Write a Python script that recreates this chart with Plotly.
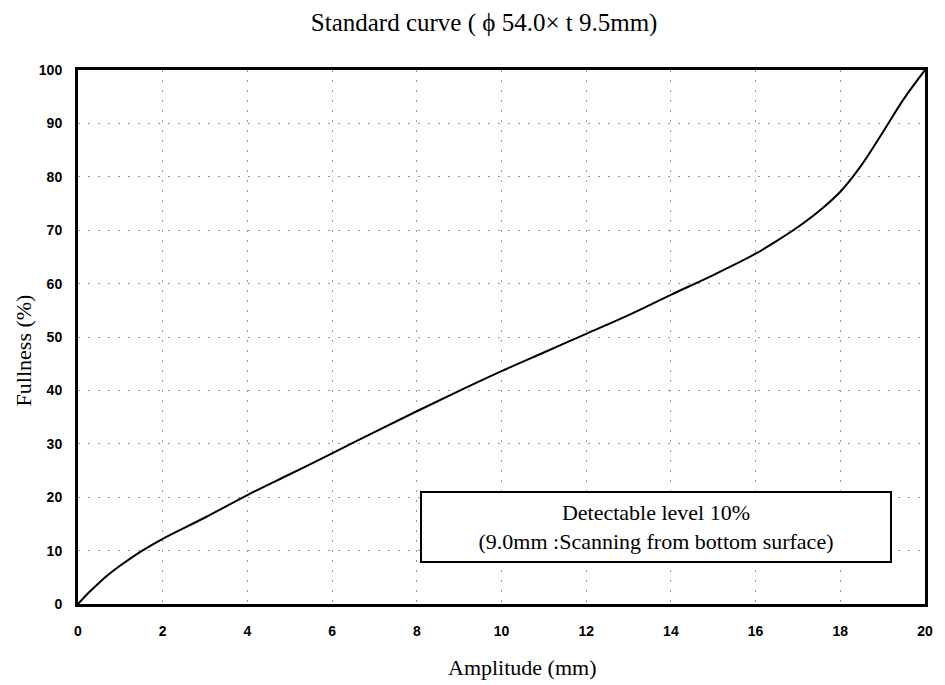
import plotly.graph_objects as go

# Data
amplitude_mm = [0, 0.25, 0.5, 0.75, 1, 1.5, 2, 3, 4, 5, 6, 7, 8, 9, 10, 11, 12,
                13, 14, 15, 16, 16.5, 17, 17.5, 18, 18.5, 19, 19.5, 20]
fullness_pct = [0, 2.1, 4.0, 5.7, 7.2, 9.9, 12.2, 16.2, 20.4, 24.3, 28.2, 32.2, 36.1,
                39.9, 43.6, 47.1, 50.6, 54.1, 57.9, 61.6, 65.6, 68.0, 70.6, 73.6,
                77.2, 82.2, 88.3, 94.6, 100]

x_ticks = [0, 2, 4, 6, 8, 10, 12, 14, 16, 18, 20]
y_ticks = [0, 10, 20, 30, 40, 50, 60, 70, 80, 90, 100]

title_text = "Standard curve ( \u03d5 54.0× t 9.5mm)"
x_title = "Amplitude (mm)"
y_title = "Fullness (%)"
note_text = "Detectable level 10%<br>(9.0mm :Scanning from bottom surface)"

serif = "Liberation Serif, Times New Roman, serif"
sans = "Liberation Sans, Arial, sans-serif"

fig = go.Figure()
fig.add_trace(go.Scatter(
    x=amplitude_mm, y=fullness_pct, mode="lines",
    line=dict(color="black", width=2, shape="spline", smoothing=1.0),
    showlegend=False, hoverinfo="skip",
))

axis_common = dict(
    showline=True, linecolor="black", linewidth=3, mirror=True,
    showgrid=True, gridcolor="#9a9a9a", gridwidth=1, griddash="2px,8px",
    zeroline=False, ticks="",
    tickfont=dict(family=sans, size=14, color="black", weight="bold"),
)

fig.update_xaxes(range=[0, 20], tickvals=x_ticks, ticktext=[str(v) for v in x_ticks],
                 ticklabelstandoff=12, **axis_common)
fig.update_yaxes(range=[0, 100], tickvals=y_ticks, ticktext=[str(v) for v in y_ticks],
                 ticklabelstandoff=10, **axis_common)

fig.update_layout(
    width=945, height=685, autosize=False,
    margin=dict(l=78, r=14, t=70, b=81),
    plot_bgcolor="white", paper_bgcolor="white",
    title=dict(text=title_text, xref="paper", x=(487 - 78) / (931 - 78), xanchor="center",
               yref="container", y=1 - 22 / 685, yanchor="middle",
               font=dict(family=serif, size=25, color="black")),
    annotations=[
        dict(text=x_title, xref="paper", yref="paper",
             x=(525 - 78) / (931 - 78), y=-(667 - 604) / (604 - 70),
             xanchor="center", yanchor="middle", showarrow=False,
             font=dict(family=serif, size=22, color="black")),
        dict(text=y_title, xref="paper", yref="paper",
             x=-(78 - 23) / (931 - 78), y=(604 - 350) / (604 - 70),
             xanchor="center", yanchor="middle", showarrow=False, textangle=-90,
             font=dict(family=serif, size=22, color="black")),
        dict(text=note_text, xref="x", yref="y", x=13.65, y=14.5,
             xanchor="center", yanchor="middle", showarrow=False,
             width=468, height=68, align="center",
             bgcolor="white", bordercolor="black", borderwidth=2, borderpad=0,
             font=dict(family=serif, size=22, color="black")),
    ],
)

fig.write_html("out.html")
